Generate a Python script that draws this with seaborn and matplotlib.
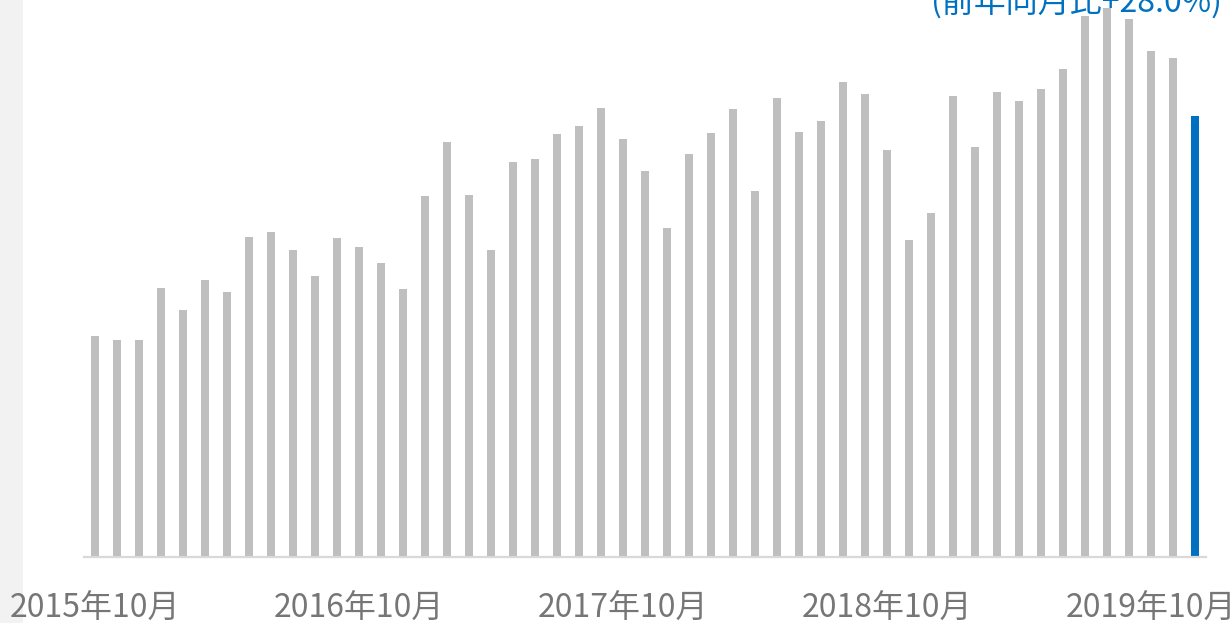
import matplotlib
matplotlib.use("Agg")
import matplotlib.pyplot as plt
import seaborn as sns
import pandas as pd
from matplotlib.patches import Rectangle

# months 2015-10 .. 2019-12
months = [f"{y}年{m}月" for y in range(2015, 2020) for m in range(1, 13)
          if (y, m) >= (2015, 10) and (y, m) <= (2019, 12)]
values = [221, 217, 217, 269, 247, 277, 265, 320, 325, 307, 281, 319,
          310, 294, 268, 361, 415, 362, 307, 395, 398, 423, 431, 449,
          418, 386, 329, 403, 424, 448, 366, 459, 425, 436, 475, 463,
          407, 317, 344, 461, 410, 465, 456, 468, 488, 541, 549, 538,
          506, 499, 441]
tick_labels = ["2015年10月", "2016年10月", "2017年10月", "2018年10月", "2019年10月"]
note_text = "(前年同月比+28.0%)"

gray = "#BFBFBF"
blue = "#0070C0"
colors = [gray] * (len(values) - 1) + [blue]

df = pd.DataFrame({"month": months, "value": values})

sns.set_theme(style="white")
plt.rcParams['font.family'] = ['Noto Sans CJK JP', 'DejaVu Sans']

W, H = 1231, 623
fig = plt.figure(figsize=(W / 100, H / 100), dpi=100)
fig.patches.append(Rectangle((0, 0), 23 / W, 1, transform=fig.transFigure,
                             facecolor="#F2F2F2", edgecolor="none", zorder=-5))

ax_left, ax_right = 84, 1206
ax_bottom = 557
ax = fig.add_axes([ax_left / W, (H - ax_bottom) / H, (ax_right - ax_left) / W, ax_bottom / H])
ax.patch.set_alpha(0)

sns.barplot(data=df, x="month", y="value", hue="month", palette=colors,
            legend=False, width=7.5 / 22, ax=ax, saturation=1, linewidth=0)

ax.set_xlim(-0.5, len(values) - 0.5)
ax.set_ylim(0, ax_bottom)
ax.set_xlabel("")
ax.set_ylabel("")
ax.set_yticks([])
idx = [months.index(t) for t in tick_labels]
ax.set_xticks(idx)
ax.set_xticklabels(tick_labels, fontsize=23, color="#767676")
ax.tick_params(axis="x", length=0, pad=26)
for s in ["top", "right", "left"]:
    ax.spines[s].set_visible(False)
ax.spines["bottom"].set_color("#D9D9D9")
ax.spines["bottom"].set_linewidth(1.6)

fig.text(1222 / W, 1 - 12 / H, note_text, ha="right", va="baseline",
         fontsize=23, color=blue)

fig.savefig("out.png", dpi=100)
